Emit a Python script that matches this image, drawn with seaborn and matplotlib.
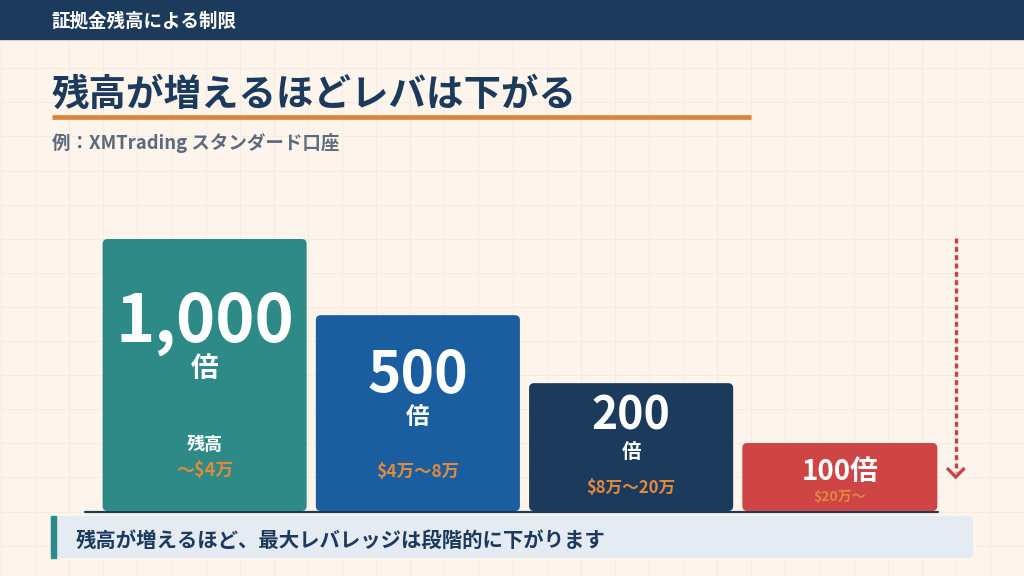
import matplotlib
matplotlib.use('Agg')
import matplotlib.pyplot as plt
import seaborn as sns
import numpy as np
from matplotlib.patches import FancyBboxPatch, Rectangle

# data
tiers = ['〜$4万', '$4万〜8万', '$8万〜20万', '$20万〜']
leverage = [1000, 500, 200, 100]
bar_heights = [100, 72, 47, 25]   # visual bar height (% of tallest bar)
bar_colors = ['#2e8a87', '#1a5ea0', '#1b3a5c', '#cf4545']

header_text = '証拠金残高による制限'
title_text = '残高が増えるほどレバは下がる'
subtitle_text = '例：XMTrading スタンダード口座'
note_text = '残高が増えるほど、最大レバレッジは段階的に下がります'

NAVY = '#1b3a5c'
ORANGE = '#e0843a'
TEAL = '#2e8a87'
BG = '#fdf5ec'

sns.set_theme(style='white')
plt.rcParams['font.family'] = ['Noto Sans CJK JP', 'DejaVu Sans']
plt.rcParams['font.weight'] = 'bold'

W, H = 1024, 576
fig = plt.figure(figsize=(W / 100, H / 100), dpi=100, facecolor=BG)

# page layer, in pixel coordinates (y down)
bg = fig.add_axes([0, 0, 1, 1])
bg.set_xlim(0, W)
bg.set_ylim(H, 0)
bg.axis('off')

# faint background grid
for gx in np.arange(1, W, 34.1):
    bg.plot([gx, gx], [39, H], color='#f5ece1', lw=0.7, zorder=0)
for gy in np.arange(68.2, H, 34.1):
    bg.plot([0, W], [gy, gy], color='#f5ece1', lw=0.7, zorder=0)

# header bar
bg.add_patch(Rectangle((0, 0), W, 39, color=NAVY, zorder=2))
bg.text(52, 27, header_text, color='white', fontsize=13.3, fontweight='bold',
        va='baseline', ha='left', zorder=3)

# title + underline + subtitle
bg.text(52, 106, title_text, color=NAVY, fontsize=27, fontweight='bold',
        va='baseline', ha='left')
bg.plot([52, 751], [116.5, 116.5], color=ORANGE, lw=3.4, solid_capstyle='butt')
bg.text(52, 149, subtitle_text, color='#5b6b7d', fontsize=13.3, fontweight='bold',
        va='baseline', ha='left')

# baseline under the bars
bg.plot([85, 938], [512, 512], color=NAVY, lw=1.6, zorder=5)

# dotted "going down" arrow
ARROW = '#c9444a'
bg.plot([955.7, 955.7], [238, 472], color=ARROW, lw=2.4,
        linestyle=(0, (1.5, 1.0)), dash_capstyle='butt')
bg.plot([947, 955.7, 964.5], [468, 477, 468], color=ARROW, lw=2.4,
        solid_joinstyle='miter', solid_capstyle='butt')

# bottom note box
bg.add_patch(FancyBboxPatch((50, 516), 923, 42, boxstyle='round,pad=0,rounding_size=5',
                            fc='#e5ebf2', ec='none', zorder=2))
bg.add_patch(Rectangle((50.5, 516), 5.5, 42, color=TEAL, zorder=3))
bg.text(76, 546.5, note_text, color=NAVY, fontsize=14.7, fontweight='bold',
        va='baseline', ha='left', zorder=4)

# bar layer
ax = fig.add_axes([98 / W, (H - 511) / H, 853 / W, 272 / H])
sns.barplot(x=tiers, y=bar_heights, hue=tiers, palette=bar_colors, saturation=1,
            width=0.957, legend=False, ax=ax)
ax.set_xlim(-0.5, 3.5)
ax.set_ylim(0, 100)
ax.axis('off')

px_x = 853 / 4      # pixels per x unit
px_y = 272 / 100    # pixels per y unit

bars = sorted(ax.patches, key=lambda p: p.get_x())
for i, p in enumerate(bars):
    x, w, h = p.get_x(), p.get_width(), p.get_height()
    fc = p.get_facecolor()
    if i == 3:
        w = 195 / px_x
    p.remove()
    ax.add_patch(FancyBboxPatch((x, 0), w, h,
                                boxstyle=f'round,pad=0,rounding_size={5 / px_x}',
                                mutation_aspect=px_x / px_y, fc=fc, ec='none'))


def ypix(py):
    return (511 - py) / px_y


# (number baseline px, number size, 倍 baseline px, 倍 size, range baseline px, range size)
label_layout = [
    (342, 48, 377, 20, 476, 13),
    (392, 41, 424, 17, 477, 12.5),
    (430, 32, 458, 14, 493, 12),
    (480, 20, None, None, 501, 10),
]

RANGE_ORANGE = '#e0893f'
for i, (v, rng) in enumerate(zip(leverage, tiers)):
    nb, ns, kb, ks, rb, rs = label_layout[i]
    cx = bars[i].get_x() + (195 / px_x if i == 3 else bars[i].get_width()) / 2
    if kb is None:
        ax.text(cx, ypix(nb), f'{v:,}倍', color='white', fontsize=ns,
                fontweight='bold', ha='center', va='baseline')
    else:
        ax.text(cx, ypix(nb), f'{v:,}', color='white', fontsize=ns,
                fontweight='bold', ha='center', va='baseline')
        ax.text(cx, ypix(kb), '倍', color='white', fontsize=ks,
                fontweight='bold', ha='center', va='baseline')
    if i == 0:
        ax.text(cx, ypix(450), '残高', color='white', fontsize=13,
                fontweight='bold', ha='center', va='baseline')
    ax.text(cx, ypix(rb), rng, color=RANGE_ORANGE, fontsize=rs,
            fontweight='bold', ha='center', va='baseline')

fig.savefig('out.png', dpi=100, facecolor=BG)
